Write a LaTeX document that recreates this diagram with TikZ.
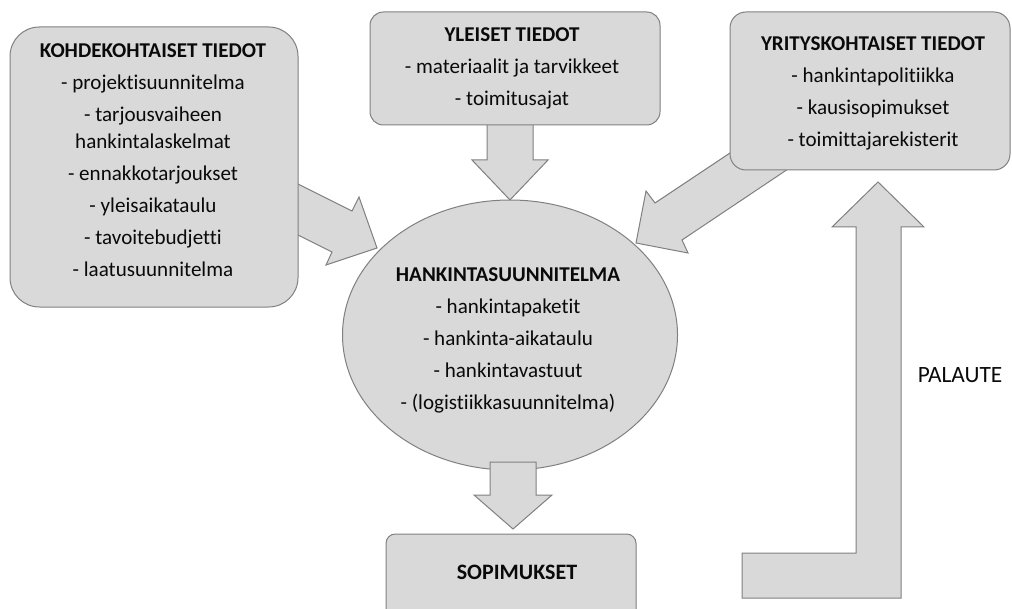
\documentclass[tikz,border=0pt]{standalone}
\usepackage{fontspec}
\setmainfont[Ligatures={NoCommon,NoContextual}]{Carlito}
\usetikzlibrary{shapes.geometric}
\definecolor{boxfill}{HTML}{D9D9D9}
\definecolor{boxline}{HTML}{808080}
\definecolor{txt}{HTML}{0A0A0A}
\begin{document}
\begin{tikzpicture}[x=0.75pt,y=-0.75pt,
  box/.style={draw=boxline, fill=boxfill, line width=0.75pt, rounded corners=#1, inner sep=0pt},
  box/.default=12pt,
  blockarrow/.style={draw=boxline, fill=boxfill, line width=0.75pt, line join=miter},
  txtnode/.style={align=center, text=txt, font=\fontsize{15.8}{24}\selectfont, inner sep=0pt}]
\useasboundingbox (0,0) rectangle (1012,609);

% diagonal arrows behind boxes
\draw[blockarrow] (280,175) -- (352,211) -- (359,197) -- (377,248) -- (326,265) -- (332,252) -- (280,226) -- cycle;
\draw[blockarrow] (760,133) -- (655,203) -- (646,191) -- (636,243) -- (688,253) -- (682,240) -- (800,161) -- cycle;
% top arrow
\draw[blockarrow] (487,120) -- (487,160) -- (472,160) -- (510,200) -- (548,160) -- (533,160) -- (533,120) -- cycle;

% boxes
\node[box=22pt, minimum width=216pt, minimum height=210pt] (kbox) at (154,167) {};
\node[box=10pt, minimum width=217.5pt, minimum height=84.75pt] (ybox) at (515,68.5) {};
\node[box=12pt, minimum width=210pt, minimum height=118.5pt] (rbox) at (870,91) {};
\node[draw=boxline, fill=boxfill, line width=0.75pt, ellipse, inner sep=0pt, minimum width=251.25pt, minimum height=202.5pt] (plan) at (510,335) {};
\node[box=7pt, minimum width=187.5pt, minimum height=64.5pt] (sbox) at (511,577) {};

% bottom arrow
\draw[blockarrow] (490,462) -- (490,495) -- (474,495) -- (513,529) -- (552,495) -- (536,495) -- (536,462) -- cycle;
% feedback arrow
\draw[blockarrow] (742,553) -- (856,553) -- (856,227) -- (832,227) -- (878,182) -- (924,227) -- (901,227) -- (901,598) -- (742,598) -- cycle;

% texts
\node[txtnode] (ktext) at (153,160) {\textbf{KOHDEKOHTAISET TIEDOT}\\ - projektisuunnitelma\\ - tarjousvaiheen\\[-4pt] hankintalaskelmat\\ - ennakkotarjoukset\\ - yleisaikataulu\\ - tavoitebudjetti\\ - laatusuunnitelma};
\node[txtnode] (ytext) at (512,68) {\textbf{YLEISET TIEDOT}\\ - materiaalit ja tarvikkeet\\ - toimitusajat};
\node[txtnode] (rtext) at (873,93) {\textbf{YRITYSKOHTAISET TIEDOT}\\ - hankintapolitiikka\\ - kausisopimukset\\ - toimittajarekisterit};
\node[txtnode] (ptext) at (508,340) {\textbf{HANKINTASUUNNITELMA}\\ - hankintapaketit\\ - hankinta-aikataulu\\ - hankintavastuut\\ - (logistiikkasuunnitelma)};
\node[txtnode, font=\fontsize{16.5}{20}\selectfont\bfseries] (stext) at (517,572) {SOPIMUKSET};
\node[txtnode, font=\fontsize{17.5}{20}\selectfont] (palaute) at (960,375) {PALAUTE};
\end{tikzpicture}
\end{document}
